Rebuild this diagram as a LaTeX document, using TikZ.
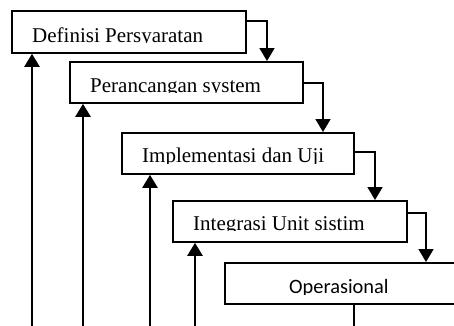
\documentclass[tikz,border=0pt]{standalone}
\usepackage{fontspec}
\setmainfont{Liberation Serif}
\newfontfamily\calfont{Carlito}
\usetikzlibrary{arrows.meta}
\begin{document}
\begin{tikzpicture}[x=1pt,y=-1pt,
  stage/.style={draw, line width=1.8pt, rectangle, inner sep=0pt, anchor=north west},
  label/.style={anchor=base west, inner sep=0pt, font=\fontsize{21}{24}\selectfont},
  flow/.style={line width=1.7pt, -{Triangle[width=15pt,length=13pt]}},
  back/.style={line width=2.4pt, -{Triangle[width=15pt,length=13pt]}}]
\clip (0,0) rectangle (454,325);

% stage boxes
\node[stage, minimum width=234pt, minimum height=42pt] (b1) at (11,10) {};
\node[stage, minimum width=233pt, minimum height=41pt] (b2) at (69,61) {};
\node[stage, minimum width=232pt, minimum height=41pt] (b3) at (121,132) {};
\node[stage, minimum width=234pt, minimum height=41pt] (b4) at (172,200) {};
\node[stage, minimum width=236pt, minimum height=41pt] (b5) at (224,262) {};

% box captions, cut just below the baseline
\begin{scope}
  \clip (b1.north west) rectangle (245,42.8);
  \node[label] (t1) at (32,42) {Definisi Persyaratan};
\end{scope}
\begin{scope}
  \clip (b2.north west) rectangle (302,92.8);
  \node[label] (t2) at (90,92) {Perancangan system};
\end{scope}
\begin{scope}
  \clip (b3.north west) rectangle (353,163.3);
  \node[label] (t3) at (142,162.5) {Implementasi dan Uji};
\end{scope}
\begin{scope}
  \clip (b4.north west) rectangle (406,230.8);
  \node[label] (t4) at (193,230) {Integrasi Unit sistim};
\end{scope}
\begin{scope}
  \clip (b5.north west) rectangle (454,294.5);
  \node[label, font=\calfont\fontsize{20.4}{24}\selectfont] (t5) at (289,293.3) {Operasional};
\end{scope}

% forward flow between stages
\draw[flow] (b1.east |- 0,21)  -| (267,0 |- b2.north);
\draw[flow] (b2.east |- 0,83)  -| (323,0 |- b3.north);
\draw[flow] (b3.east |- 0,152) -| (375,0 |- b4.north);
\draw[flow] (b4.east |- 0,213) -| (426,0 |- b5.north);

% feedback lines rising to earlier stages
\coordinate (f1) at (32,326);
\coordinate (f2) at (83,326);
\coordinate (f3) at (150,326);
\coordinate (f4) at (195,326);
\coordinate (f5) at (354,326);
\draw[back] (f1) -- (f1 |- b1.south);
\draw[back] (f2) -- (f2 |- b2.south);
\draw[back] (f3) -- (f3 |- b3.south);
\draw[back] (f4) -- (f4 |- b4.south);
\draw[line width=2pt] (f5) -- (f5 |- b5.south);
\end{tikzpicture}
\end{document}
